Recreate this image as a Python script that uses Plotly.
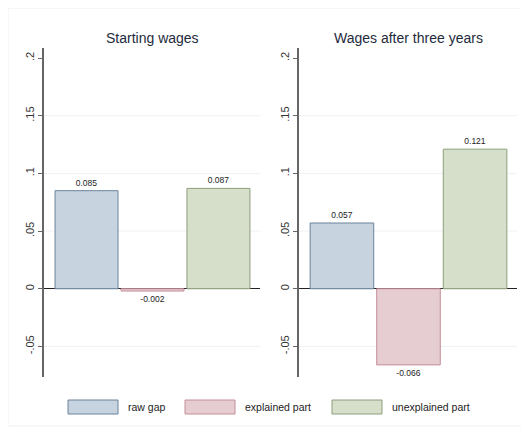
import plotly.graph_objects as go

categories = ["raw gap", "explained part", "unexplained part"]
panel_titles = ["Starting wages", "Wages after three years"]
starting_values = [0.085, -0.002, 0.087]
after3_values = [0.057, -0.066, 0.121]
tick_vals = [-0.05, 0, 0.05, 0.1, 0.15, 0.2]
tick_text = ["-.05", "0", ".05", ".1", ".15", ".2"]
grid_vals = [-0.05, 0.05, 0.1, 0.15]

fills = ["#c7d3df", "#e6cdd2", "#d5dfca"]
borders = ["#6a849c", "#c48e98", "#8e9e7c"]

OFF = 8  # page body margin in the browser
W, H = 529 - OFF, 432 - OFF
FONT = "Liberation Sans, Arial, sans-serif"

def px(x):
    return (x - OFF) / W

def py(y):
    return (H - (y - OFF)) / H

fig = go.Figure()

panels = [(starting_values, "x", "y"), (after3_values, "x2", "y2")]
for vals, xa, ya in panels:
    fig.add_trace(go.Bar(
        x=[0, 1, 2], y=vals, width=0.955,
        marker=dict(color=fills, line=dict(color=borders, width=1)),
        text=[f"{v:.3f}" for v in vals], textposition="outside",
        textfont=dict(size=8.5, color="#222", family=FONT),
        cliponaxis=False, showlegend=False, xaxis=xa, yaxis=ya,
        hoverinfo="skip"))

yrange = [-0.0765, 0.2087]
xrange_ = [-0.645, 2.63]
ydom = [py(377), py(48)]
axis_common = dict(range=yrange, tickvals=tick_vals, ticktext=tick_text,
                   tickangle=-90, ticks="outside", ticklen=4, tickcolor="#666",
                   showline=True, linecolor="#666", linewidth=1.5,
                   showgrid=False, zeroline=True, zerolinecolor="#222",
                   zerolinewidth=1,
                   tickfont=dict(size=11, color="#333", family=FONT))
xaxis_common = dict(range=xrange_, showticklabels=False, showgrid=False,
                    zeroline=False, showline=False, ticks="")

fig.update_layout(
    width=W, height=H, margin=dict(l=0, r=0, t=0, b=0),
    paper_bgcolor="white", plot_bgcolor="white",
    font=dict(family=FONT),
    xaxis=dict(domain=[px(44), px(260)], anchor="y", **xaxis_common),
    yaxis=dict(domain=ydom, anchor="x", **axis_common),
    xaxis2=dict(domain=[px(299), px(517)], anchor="y2", **xaxis_common),
    yaxis2=dict(domain=ydom, anchor="x2", **axis_common),
)

shapes = []
for xr, yr in [("x domain", "y"), ("x2 domain", "y2")]:
    for g in grid_vals:
        shapes.append(dict(type="line", xref=xr, yref=yr, x0=0, x1=1, y0=g, y1=g,
                           line=dict(color="#eef1f4", width=1), layer="below"))

# faint outer frame
shapes.append(dict(type="rect", xref="paper", yref="paper",
                   x0=px(8), x1=px(523), y0=py(426), y1=py(8),
                   line=dict(color="#f0f0f0", width=1), layer="below"))

annotations = []
for t, cx in zip(panel_titles, [152, 408]):
    annotations.append(dict(text=t, x=px(cx), y=py(38), xref="paper", yref="paper",
                            showarrow=False, xanchor="center", yanchor="middle",
                            font=dict(size=14, color="#1e2a3c", family=FONT)))

# legend drawn manually
legend_boxes = [(68, 118), (185, 235), (332, 382)]
legend_text_x = [126, 243, 390]
for i, cat in enumerate(categories):
    x0, x1 = legend_boxes[i]
    shapes.append(dict(type="rect", xref="paper", yref="paper",
                       x0=px(x0), x1=px(x1), y0=py(414), y1=py(400),
                       fillcolor=fills[i], line=dict(color=borders[i], width=1)))
    annotations.append(dict(text=cat, x=px(legend_text_x[i]), y=py(407),
                            xref="paper", yref="paper", showarrow=False,
                            xanchor="left", yanchor="middle",
                            font=dict(size=10.5, color="#222", family=FONT)))

fig.update_layout(shapes=shapes, annotations=annotations)
fig.write_html("out.html")
